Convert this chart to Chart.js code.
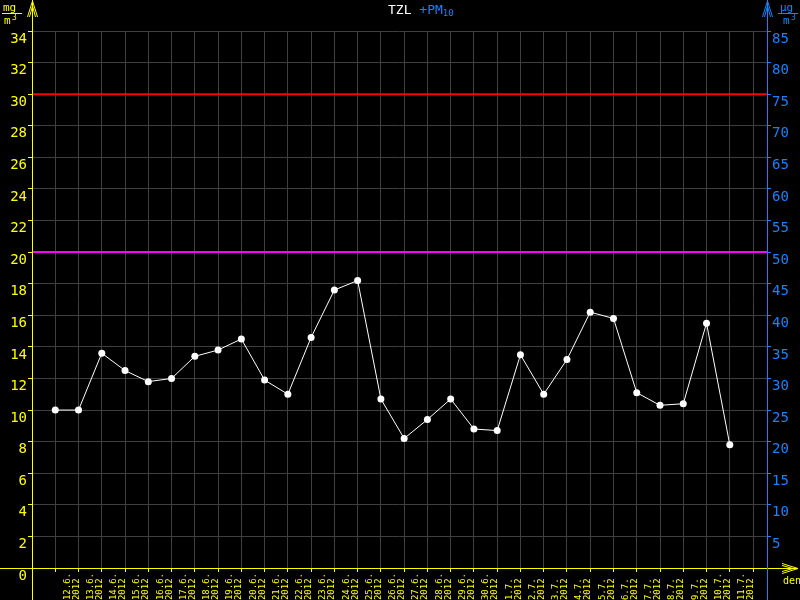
<!DOCTYPE html>
<html><head><meta charset="utf-8">
<script src="https://cdn.jsdelivr.net/npm/chart.js@4/dist/chart.umd.min.js"></script>
<style>html,body{margin:0;padding:0;background:#000;overflow:hidden}canvas{display:block}</style>
</head><body><canvas id="c" width="800" height="600"></canvas>
<script>
// ---- data ----
const dates = ['12.6.2012','13.6.2012','14.6.2012','15.6.2012','16.6.2012','17.6.2012','18.6.2012','19.6.2012','20.6.2012','21.6.2012','22.6.2012','23.6.2012','24.6.2012','25.6.2012','26.6.2012','27.6.2012','28.6.2012','29.6.2012','30.6.2012','1.7.2012','2.7.2012','3.7.2012','4.7.2012','5.7.2012','6.7.2012','7.7.2012','8.7.2012','9.7.2012','10.7.2012','11.7.2012'];
const tzl = [10.0,10.0,13.6,12.5,11.8,12.0,13.4,13.8,14.5,11.9,11.0,14.6,17.6,18.2,10.7,8.2,9.4,10.7,8.8,8.7,13.5,11.0,13.2,16.2,15.8,11.1,10.3,10.4,15.5,7.8];
const limitRed = 30;
const limitMagenta = 20;
const leftMin = 0, leftMax = 34, leftStep = 2;
const rightMin = 0, rightMax = 85, rightStep = 5;
const xMin = 0, xMax = 31.6, xLastTick = 31;
const titleMain = 'TZL';
const titleSecond = '+PM';
const titleSub = '10';
const xAxisName = 'den';

const YEL = '#ffff00', BLUE = '#1a80ff', GRID = '#3f3f3f';
const FONT = '"DejaVu Sans Mono", monospace';

const decor = {
  id: 'decor',
  beforeDraw(chart) {
    const ctx = chart.ctx;
    ctx.save(); ctx.fillStyle = '#000'; ctx.fillRect(0, 0, chart.width, chart.height); ctx.restore();
  },
  afterDraw(chart) {
    const ctx = chart.ctx, ca = chart.chartArea;
    const xl = Math.round(ca.left) + 0.5, xr = Math.round(ca.right) + 0.5, yb = Math.round(ca.bottom) + 0.5;
    ctx.save();
    ctx.lineWidth = 1;
    // left axis
    ctx.strokeStyle = YEL;
    ctx.beginPath(); ctx.moveTo(xl, 0); ctx.lineTo(xl, chart.height); ctx.stroke();
    ctx.beginPath(); ctx.moveTo(xl - 5, 17); ctx.lineTo(xl, 1); ctx.lineTo(xl + 5, 17);
    ctx.moveTo(xl - 3, 17); ctx.lineTo(xl, 6); ctx.lineTo(xl + 3, 17); ctx.stroke();
    // x axis
    ctx.beginPath(); ctx.moveTo(0, yb); ctx.lineTo(798, yb); ctx.stroke();
    ctx.beginPath(); ctx.moveTo(782, yb - 5); ctx.lineTo(798, yb); ctx.lineTo(782, yb + 5);
    ctx.moveTo(782, yb - 3); ctx.lineTo(793, yb); ctx.lineTo(782, yb + 3); ctx.stroke();
    // right axis
    ctx.strokeStyle = BLUE;
    ctx.beginPath(); ctx.moveTo(xr, 0); ctx.lineTo(xr, chart.height); ctx.stroke();
    ctx.beginPath(); ctx.moveTo(xr - 5, 17); ctx.lineTo(xr, 1); ctx.lineTo(xr + 5, 17);
    ctx.moveTo(xr - 3, 17); ctx.lineTo(xr, 6); ctx.lineTo(xr + 3, 17); ctx.stroke();

    // title
    ctx.textBaseline = 'alphabetic';
    ctx.font = '13px ' + FONT;
    let tx = 388;
    ctx.fillStyle = '#ffffff'; ctx.fillText(titleMain, tx, 14);
    tx += ctx.measureText(titleMain + ' ').width;
    ctx.fillStyle = BLUE; ctx.fillText(titleSecond, tx, 14);
    tx += ctx.measureText(titleSecond).width;
    ctx.font = '9px ' + FONT; ctx.fillText(titleSub, tx, 16);

    // units
    ctx.font = '11px ' + FONT;
    ctx.fillStyle = YEL; ctx.strokeStyle = YEL;
    ctx.fillText('mg', 3, 11);
    ctx.beginPath(); ctx.moveTo(2, 13.5); ctx.lineTo(22, 13.5); ctx.stroke();
    ctx.fillText('m', 4, 24); ctx.font = '8px ' + FONT; ctx.fillText('3', 12, 20);
    ctx.font = '11px ' + FONT;
    ctx.fillStyle = BLUE; ctx.strokeStyle = BLUE;
    ctx.fillText('\u00b5g', 780, 11);
    ctx.beginPath(); ctx.moveTo(778, 13.5); ctx.lineTo(798, 13.5); ctx.stroke();
    ctx.fillText('m', 783, 24); ctx.font = '8px ' + FONT; ctx.fillText('3', 791, 20);
    // x axis name
    ctx.font = '10px ' + FONT; ctx.fillStyle = YEL;
    ctx.fillText(xAxisName, 783, 584);
    ctx.restore();
  }
};

const mainData = dates.map((d, i) => ({ x: i + 1, y: tzl[i] }));

new Chart(document.getElementById('c'), {
  type: 'line',
  data: {
    datasets: [
      { data: [{ x: xMin, y: limitRed }, { x: xMax, y: limitRed }], borderColor: '#ff0000', borderWidth: 2, pointRadius: 0, yAxisID: 'y' },
      { data: [{ x: xMin, y: limitMagenta }, { x: xMax, y: limitMagenta }], borderColor: '#ff00ff', borderWidth: 2, pointRadius: 0, yAxisID: 'y' },
      { data: mainData, borderColor: '#ffffff', borderWidth: 1, pointRadius: 3.5, pointBackgroundColor: '#ffffff', pointBorderWidth: 0, tension: 0, yAxisID: 'y' }
    ]
  },
  options: {
    responsive: false, animation: false,
    layout: { padding: { top: 31, left: 0, right: 0, bottom: 0 } },
    plugins: { legend: { display: false }, tooltip: { enabled: false }, title: { display: false } },
    scales: {
      x: {
        type: 'linear', min: xMin, max: xMax,
        afterBuildTicks(scale) { const t = []; for (let i = 1; i <= xLastTick; i++) t.push({ value: i }); scale.ticks = t; },
        afterFit(scale) { scale.height = 32; },
        grid: { color: GRID, tickColor: YEL, tickLength: 4, drawOnChartArea: true },
        border: { display: false },
        ticks: {
          autoSkip: false, maxRotation: 90, minRotation: 90, padding: 1, labelOffset: 12,
          color: YEL, font: { family: FONT, size: 9, lineHeight: 1 },
          callback(v) {
            if (v >= 1 && v <= dates.length && Number.isInteger(v)) {
              const d = dates[v - 1]; const k = d.lastIndexOf('.');
              return [d.slice(0, k + 1).padEnd(5, ' '), d.slice(k + 1).padEnd(5, ' ')];
            }
            return '';
          }
        }
      },
      y: {
        position: 'left', min: leftMin, max: leftMax,
        afterFit(scale) { scale.width = 32; },
        grid: { color: GRID, tickColor: YEL, tickLength: 4 },
        border: { display: false },
        ticks: { stepSize: leftStep, color: YEL, padding: 1, labelOffset: 8, font: { family: FONT, size: 14 } }
      },
      y2: {
        position: 'right', min: rightMin, max: rightMax,
        afterFit(scale) { scale.width = 33; },
        grid: { drawOnChartArea: false, tickColor: BLUE, tickLength: 4 },
        border: { display: false },
        ticks: { stepSize: rightStep, color: BLUE, padding: 1, labelOffset: 8, font: { family: FONT, size: 14 },
          callback(v) { return v === 0 ? '' : String(v); } }
      }
    }
  },
  plugins: [decor]
});
</script>
</body></html>
